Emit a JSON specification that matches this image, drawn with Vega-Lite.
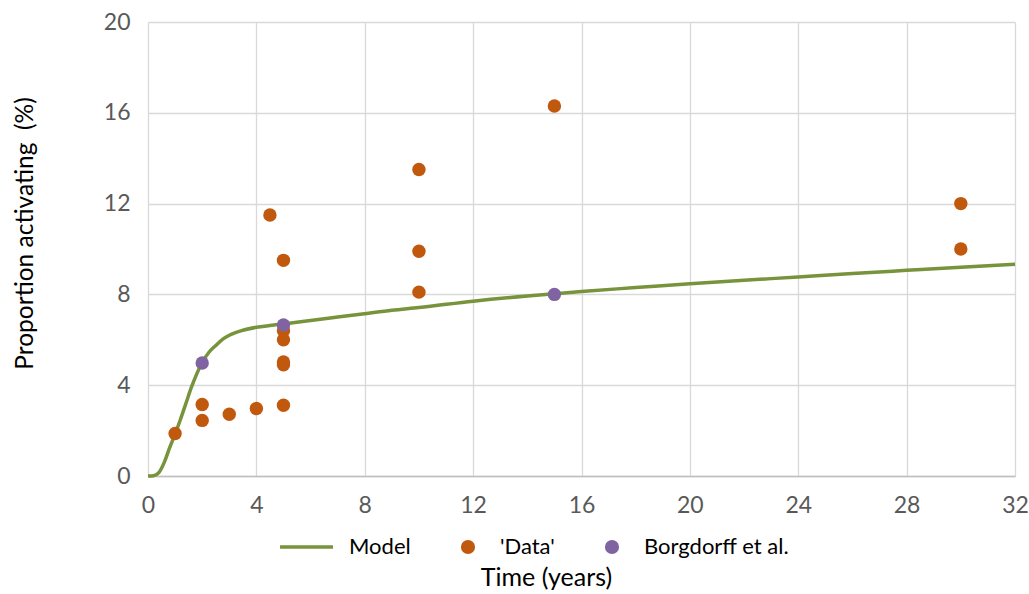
{
  "$schema": "https://vega.github.io/schema/vega-lite/v6.json",
  "width": 867,
  "height": 454,
  "autosize": "none",
  "padding": {"left": 148, "top": 22, "right": 14, "bottom": 118},
  "background": "white",
  "config": {
    "view": {"stroke": null},
    "font": "Lato",
    "axis": {
      "labelFont": "Lato", "titleFont": "Lato", "labelFontSize": 23, "titleFontSize": 25,
      "labelColor": "#595959", "titleColor": "#000000", "titleFontWeight": "normal",
      "gridColor": "#D9D9D9", "gridWidth": 1.3, "ticks": false, "labelFlush": false, "labelOverlap": false
    }
  },
  "datasets": {
    "model": [
      {"series": "Model", "t": 0, "p": 0},
      {"series": "Model", "t": 0.2, "p": 0.01},
      {"series": "Model", "t": 0.4, "p": 0.15},
      {"series": "Model", "t": 0.6, "p": 0.6},
      {"series": "Model", "t": 0.8, "p": 1.25},
      {"series": "Model", "t": 1.0, "p": 1.85},
      {"series": "Model", "t": 1.2, "p": 2.5},
      {"series": "Model", "t": 1.4, "p": 3.2},
      {"series": "Model", "t": 1.6, "p": 3.9},
      {"series": "Model", "t": 1.8, "p": 4.5},
      {"series": "Model", "t": 2.0, "p": 5.0},
      {"series": "Model", "t": 2.25, "p": 5.45},
      {"series": "Model", "t": 2.5, "p": 5.75},
      {"series": "Model", "t": 2.75, "p": 6.02},
      {"series": "Model", "t": 3.0, "p": 6.2},
      {"series": "Model", "t": 3.5, "p": 6.42},
      {"series": "Model", "t": 4.0, "p": 6.55},
      {"series": "Model", "t": 4.5, "p": 6.63},
      {"series": "Model", "t": 5.0, "p": 6.7},
      {"series": "Model", "t": 6.0, "p": 6.85},
      {"series": "Model", "t": 7.0, "p": 7.0},
      {"series": "Model", "t": 8.0, "p": 7.15},
      {"series": "Model", "t": 9.0, "p": 7.3},
      {"series": "Model", "t": 10.0, "p": 7.42},
      {"series": "Model", "t": 12.0, "p": 7.7},
      {"series": "Model", "t": 14.0, "p": 7.93},
      {"series": "Model", "t": 15.0, "p": 8.03},
      {"series": "Model", "t": 16.0, "p": 8.13},
      {"series": "Model", "t": 18.0, "p": 8.3},
      {"series": "Model", "t": 20.0, "p": 8.47},
      {"series": "Model", "t": 22.0, "p": 8.62},
      {"series": "Model", "t": 24.0, "p": 8.77},
      {"series": "Model", "t": 26.0, "p": 8.92},
      {"series": "Model", "t": 28.0, "p": 9.06},
      {"series": "Model", "t": 30.0, "p": 9.2},
      {"series": "Model", "t": 32.0, "p": 9.33}
    ],
    "points": [
      {"series": "'Data'", "t": 1, "p": 1.87},
      {"series": "'Data'", "t": 2, "p": 3.15},
      {"series": "'Data'", "t": 2, "p": 2.45},
      {"series": "'Data'", "t": 3, "p": 2.72},
      {"series": "'Data'", "t": 4, "p": 2.97},
      {"series": "'Data'", "t": 4.5, "p": 11.5},
      {"series": "'Data'", "t": 5, "p": 9.5},
      {"series": "'Data'", "t": 5, "p": 6.4},
      {"series": "'Data'", "t": 5, "p": 6.0},
      {"series": "'Data'", "t": 5, "p": 5.02},
      {"series": "'Data'", "t": 5, "p": 4.9},
      {"series": "'Data'", "t": 5, "p": 3.12},
      {"series": "'Data'", "t": 10, "p": 13.5},
      {"series": "'Data'", "t": 10, "p": 9.9},
      {"series": "'Data'", "t": 10, "p": 8.1},
      {"series": "'Data'", "t": 15, "p": 16.3},
      {"series": "'Data'", "t": 30, "p": 12.0},
      {"series": "'Data'", "t": 30, "p": 10.0},
      {"series": "Borgdorff et al.", "t": 2, "p": 4.98},
      {"series": "Borgdorff et al.", "t": 5, "p": 6.65},
      {"series": "Borgdorff et al.", "t": 15, "p": 8.0}
    ]
  },
  "encoding": {
    "x": {
      "field": "t", "type": "quantitative",
      "scale": {"domain": [0, 32], "nice": false},
      "axis": {"values": [0, 4, 8, 12, 16, 20, 24, 28, 32], "title": "Time (years)", "labelPadding": 18, "titlePadding": 48, "titleX": 398, "domainColor": "#BFBFBF", "domainWidth": 1.3}
    },
    "y": {
      "field": "p", "type": "quantitative",
      "scale": {"domain": [0, 20], "nice": false},
      "axis": {"values": [0, 4, 8, 12, 16, 20], "title": "Proportion activating\u00a0 (%)", "titleFontSize": 24.5, "titleY": 211, "labelPadding": 18, "titlePadding": 66, "domain": false}
    },
    "color": {
      "field": "series", "type": "nominal",
      "scale": {"domain": ["Model", "'Data'", "Borgdorff et al."], "range": ["#77933C", "#C0590E", "#8064A2"]},
      "legend": {
        "orient": "none", "legendX": 144, "legendY": 514, "direction": "horizontal", "title": null,
        "labelFont": "Lato", "labelFontSize": 22, "labelColor": "#000000",
        "columnPadding": 32, "labelOffset": 35,
        "encode": {
          "symbols": {
            "update": {
              "x": {"signal": "datum.value === 'Model' ? 14.5 : 25"},
              "shape": {"signal": "datum.value === 'Model' ? 'stroke' : 'circle'"},
              "size": {"signal": "datum.value === 'Model' ? 2800 : 200"},
              "strokeWidth": {"signal": "datum.value === 'Model' ? 3.5 : 0"},
              "stroke": {"signal": "scale('color', datum.value)"},
              "fill": {"signal": "datum.value === 'Model' ? 'transparent' : scale('color', datum.value)"},
              "opacity": {"value": 1},
              "fillOpacity": {"value": 1}
            }
          }
        }
      }
    }
  },
  "layer": [
    {
      "data": {"name": "model"},
      "mark": {"type": "line", "strokeWidth": 3.5, "interpolate": "monotone"}
    },
    {
      "data": {"name": "points"},
      "mark": {"type": "point", "filled": true, "size": 180, "opacity": 1}
    }
  ]
}
